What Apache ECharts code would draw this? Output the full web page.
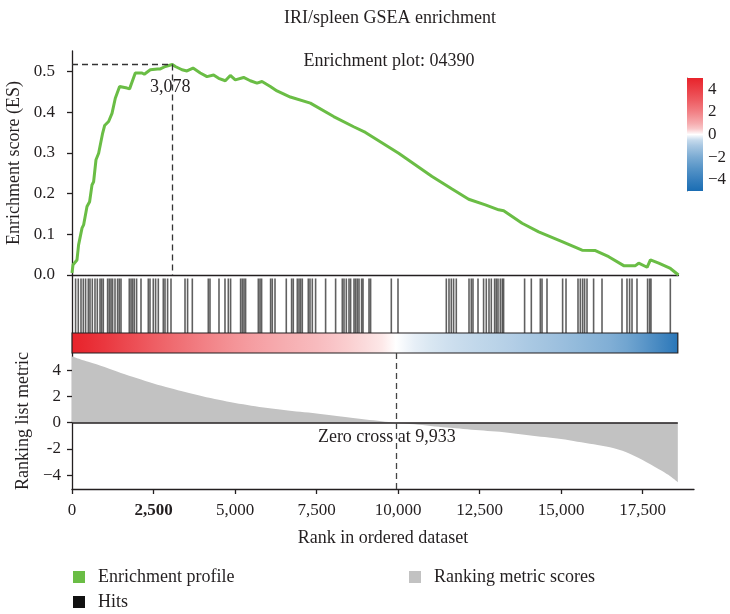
<!DOCTYPE html>
<html><head><meta charset="utf-8">
<script src="https://cdn.jsdelivr.net/npm/echarts@6/dist/echarts.min.js"></script>
<style>html,body{margin:0;padding:0;background:#fff}#c{width:730px;height:614px}</style>
</head><body><div id="c"></div>
<script>
// ---------------- data ----------------
const totalRanks = 18600;
const esRanks = [0,31,153,202,307,356,460,540,613,663,736,817,939,1000,1123,1227,1328,1460,1687,1766,1941,2147,2217,2401,2625,2708,2861,3078,3168,3374,3527,3711,3935,4140,4343,4497,4702,4855,5008,5263,5468,5674,5827,6082,6288,6696,7310,8025,8638,9000,10018,11043,11656,12166,12678,13087,13240,13804,14313,15031,15644,16052,16460,16920,17279,17380,17638,17739,17994,18353,18600];
const esValues = [0.005,0.025,0.037,0.074,0.115,0.123,0.168,0.180,0.221,0.229,0.283,0.299,0.348,0.367,0.377,0.397,0.434,0.463,0.459,0.457,0.496,0.496,0.493,0.504,0.506,0.506,0.512,0.517,0.512,0.504,0.501,0.508,0.496,0.487,0.491,0.483,0.477,0.490,0.479,0.485,0.477,0.471,0.475,0.463,0.452,0.437,0.422,0.389,0.364,0.350,0.299,0.242,0.211,0.186,0.172,0.160,0.158,0.127,0.106,0.082,0.061,0.060,0.045,0.023,0.023,0.029,0.019,0.037,0.029,0.016,0.0];
const hitRanks = [110,193,276,347,417,500,552,623,705,776,859,908,960,1092,1144,1196,1245,1319,1398,1451,1503,1757,1810,1859,1911,1981,2116,2340,2392,2493,2564,2647,2800,2852,2932,3036,3466,3545,3690,4180,4232,4508,4692,4794,4864,5171,5223,5275,5324,5714,5766,5815,6091,6143,6226,6572,6735,6787,6910,6962,7011,7063,7247,7299,7370,7471,7778,8085,8290,8342,8413,8495,8545,8649,8698,8750,8802,8882,8925,9109,9158,9793,9998,11480,11562,11633,11703,11786,12176,12246,12298,12452,12623,12706,12789,12860,12961,13013,13065,13136,13197,13237,13881,14087,14363,14415,14568,15047,15151,15519,15590,15660,15721,15795,15997,16255,16868,17021,17101,17175,17328,17653,17715,17757,18350];
const metricRanks = [0,250,500,1000,1500,2000,2500,3000,3500,4000,4500,5000,5500,6000,6500,7000,7500,8000,8500,9000,9500,9933,10500,11000,11500,12000,12500,13000,13500,14000,14500,15000,15500,16000,16500,17000,17500,18000,18300,18580];
const metricValues = [5.05,4.85,4.65,4.25,3.8,3.4,3.0,2.65,2.32,2.02,1.75,1.5,1.3,1.12,0.97,0.83,0.7,0.55,0.4,0.25,0.12,0,-0.12,-0.25,-0.37,-0.48,-0.58,-0.68,-0.8,-0.95,-1.1,-1.25,-1.45,-1.65,-1.88,-2.25,-2.85,-3.55,-4.0,-4.55];
const peakRank = 3078;
const peakES = 0.517;
const zeroCross = 9933;
const esTicks = [0,0.1,0.2,0.3,0.4,0.5];
const metricTicks = [-4,-2,0,2,4];
const colorbarTicks = [-4,-2,0,2,4];
const colorbarLevels = [5,4,3,2,1,0.5,0,-0.5,-1,-2,-3,-4,-5];
const rankTickStep = 2500;

// ---------------- style / layout ----------------
const FONT = 'Liberation Serif';
const INK = '#231f20';
const pxPerRank = 0.032606;
const plotLeft = 72;
const topWidth = totalRanks * pxPerRank;
const bottomMax = 19076;
const bottomWidth = bottomMax * pxPerRank;
const RED = [232,35,43], BLUE = [26,109,179];
function metricColor(v){
  const t = Math.pow(Math.min(1, Math.abs(v)/5), 0.6);
  const c = v >= 0 ? RED : BLUE;
  const m = k => Math.round(255 + (c[k]-255)*t);
  return 'rgb(' + m(0) + ',' + m(1) + ',' + m(2) + ')';
}
const fmt = v => v.toLocaleString('en-US');
const axisLine = {show:true, onZero:false, lineStyle:{color:INK, width:1.3}};
const nameStyle = {fontSize:18, fontFamily:FONT, color:INK};

const chart = echarts.init(document.getElementById('c'), null, {renderer:'canvas'});
const lastMetric = metricRanks[metricRanks.length-1];

const legendBase = {orient:'vertical', itemWidth:12, itemHeight:12, itemGap:7, icon:'rect', selectedMode:false, padding:0, height:50,
  textStyle:{fontFamily:FONT, fontSize:18, color:INK, padding:[0,0,0,8]}};
const gridBase = {left:plotLeft, outerBoundsMode:'none', containLabel:false};

const option = {
  animation:false,
  backgroundColor:'#fff',
  textStyle:{fontFamily:FONT, color:INK},
  graphic:[
    {type:'text', x:390, y:18, style:{text:'IRI/spleen GSEA enrichment', font:'18px "Liberation Serif"', fill:INK, textAlign:'center', textVerticalAlign:'middle'}},
    {type:'text', x:389, y:61, style:{text:'Enrichment plot: 04390', font:'18px "Liberation Serif"', fill:INK, textAlign:'center', textVerticalAlign:'middle'}}
  ],
  legend:[
    Object.assign({}, legendBase, {data:['Enrichment profile','Hits'], left:73, top:568}),
    Object.assign({}, legendBase, {data:['Ranking metric scores'], left:409, top:568})
  ],
  grid:[
    Object.assign({}, gridBase, {top:51, width:topWidth, height:224}),
    Object.assign({}, gridBase, {top:275, width:topWidth, height:58}),
    Object.assign({}, gridBase, {top:333, width:topWidth, height:20}),
    Object.assign({}, gridBase, {top:353, width:bottomWidth, height:136}),
    {left:687, top:78, width:16, height:113, outerBoundsMode:'none', containLabel:false}
  ],
  xAxis:[
    {gridIndex:0, type:'value', min:0, max:totalRanks, axisLine:axisLine, axisTick:{show:false}, axisLabel:{show:false}, splitLine:{show:false}},
    {gridIndex:1, type:'value', min:0, max:totalRanks, show:false},
    {gridIndex:2, type:'value', min:0, max:totalRanks, show:false},
    {gridIndex:3, type:'value', min:0, max:bottomMax, interval:rankTickStep, axisLine:axisLine,
      axisTick:{show:true, length:5, lineStyle:{color:INK, width:1.3}},
      axisLabel:{showMaxLabel:false, margin:13, fontSize:17, color:INK, fontFamily:FONT,
        formatter: v => v === rankTickStep ? '{b|' + fmt(v) + '}' : fmt(v),
        rich:{b:{fontWeight:'bold', fontSize:17, fontFamily:FONT, color:INK}}},
      splitLine:{show:false},
      name:'Rank in ordered dataset', nameLocation:'middle', nameGap:40, nameTextStyle:nameStyle},
    {gridIndex:4, type:'value', min:0, max:1, show:false}
  ],
  yAxis:[
    {gridIndex:0, type:'value', min:0, max:0.55, axisLine:axisLine,
      axisTick:{show:true, length:5, customValues:esTicks, lineStyle:{color:INK, width:1.3}},
      axisLabel:{customValues:esTicks, margin:17, fontSize:17, color:INK, formatter:v=>v.toFixed(1)},
      splitLine:{show:false},
      name:'Enrichment score (ES)', nameLocation:'middle', nameGap:41, nameTextStyle:nameStyle},
    {gridIndex:1, type:'value', min:0, max:1, axisLine:axisLine, axisTick:{show:false}, axisLabel:{show:false}, splitLine:{show:false}},
    {gridIndex:2, type:'value', min:0, max:1, show:false},
    {gridIndex:3, type:'value', min:-5.06, max:5.32, axisLine:axisLine,
      axisTick:{show:true, length:5, customValues:metricTicks, lineStyle:{color:INK, width:1.3}},
      axisLabel:{customValues:metricTicks, margin:11, fontSize:17, color:INK, formatter:v=> v===-4 ? '\u22124' : String(v)},
      splitLine:{show:false},
      name:'Ranking list metric', nameLocation:'middle', nameGap:39, nameTextStyle:nameStyle},
    {gridIndex:4, type:'value', min:-5, max:5, position:'right',
      axisLine:{show:true, lineStyle:{color:'#555', width:0.8}},
      axisTick:{show:true, length:4, customValues:colorbarTicks, lineStyle:{color:'#555', width:1}},
      axisLabel:{customValues:colorbarTicks, margin:5, fontSize:17, color:INK, formatter:v=> v<0 ? '\u2212'+Math.abs(v) : String(v)},
      splitLine:{show:false}}
  ],
  series:[
    {name:'Enrichment profile', type:'line', xAxisIndex:0, yAxisIndex:0,
      data: esRanks.map((r,i)=>[r, esValues[i]]),
      showSymbol:false, color:'#6abd45', lineStyle:{width:3, color:'#6abd45'},
      markLine:{silent:true, symbol:['none','none'], label:{show:false},
        lineStyle:{type:[6,4], color:'#333', width:1.3},
        data:[[{coord:[0,peakES]},{coord:[peakRank,peakES]}],[{coord:[peakRank,peakES]},{coord:[peakRank,0]}]]},
      markPoint:{silent:true, symbol:'circle', symbolSize:0,
        label:{show:true, position:'inside', offset:[-2,23], formatter:fmt(peakRank), fontSize:18, fontFamily:FONT, color:INK},
        data:[{coord:[peakRank, peakES]}]}
    },
    {name:'Hits', type:'custom', xAxisIndex:1, yAxisIndex:1, color:'#111', itemStyle:{color:'#111'},
      data: hitRanks.map(r=>[r]), encode:{x:0},
      renderItem:(params, api)=>{
        const p1 = api.coord([api.value(0), 0.94]);
        const p2 = api.coord([api.value(0), 0]);
        return {type:'line', shape:{x1:p1[0], y1:p1[1], x2:p2[0], y2:p2[1]}, style:{stroke:'#222', lineWidth:1.6, opacity:0.72}};
      }
    },
    {name:'rankbar', type:'custom', xAxisIndex:2, yAxisIndex:2, silent:true,
      data:[[0, lastMetric]], encode:{x:[0,1]},
      renderItem:(params, api)=>{
        const a = api.coord([api.value(0), 1]);
        const b = api.coord([api.value(1), 0]);
        const stops = metricRanks.map((r,i)=>({offset:r/lastMetric, color:metricColor(metricValues[i])}));
        return {type:'rect', shape:{x:a[0], y:a[1], width:b[0]-a[0], height:b[1]-a[1]},
          style:{fill:new echarts.graphic.LinearGradient(0,0,1,0,stops), stroke:INK, lineWidth:1.2}};
      }
    },
    {name:'Ranking metric scores', type:'line', xAxisIndex:3, yAxisIndex:3,
      data: metricRanks.map((r,i)=>[r, metricValues[i]]),
      showSymbol:false, smooth:0.3, color:'#c2c2c2', lineStyle:{width:0, color:'#c2c2c2'}, areaStyle:{color:'#c2c2c2', opacity:1},
      markLine:{silent:true, symbol:['none','none'], label:{show:false},
        data:[
          [{coord:[0,0], lineStyle:{type:'solid', color:INK, width:1.6}},{coord:[lastMetric,0]}],
          {xAxis:zeroCross, lineStyle:{type:[6,4], color:'#444', width:1.3}}
        ]},
      markPoint:{silent:true, symbol:'circle', symbolSize:0,
        label:{show:true, position:'inside', offset:[-9,15], formatter:'Zero cross at ' + fmt(zeroCross), fontSize:18, fontFamily:FONT, color:INK},
        data:[{coord:[zeroCross, 0]}]}
    },
    {name:'colorbar', type:'custom', xAxisIndex:4, yAxisIndex:4, silent:true,
      data:[[5,-5]], encode:{y:[0,1]},
      renderItem:(params, api)=>{
        const a = api.coord([0, api.value(0)]);
        const b = api.coord([1, api.value(1)]);
        const top = colorbarLevels[0], bot = colorbarLevels[colorbarLevels.length-1];
        const stops = colorbarLevels.map(v=>({offset:(top-v)/(top-bot), color:metricColor(v)}));
        return {type:'rect', shape:{x:a[0], y:a[1], width:b[0]-a[0], height:b[1]-a[1]},
          style:{fill:new echarts.graphic.LinearGradient(0,0,0,1,stops)}};
      }
    }
  ]
};
chart.setOption(option);
</script>
</body></html>
